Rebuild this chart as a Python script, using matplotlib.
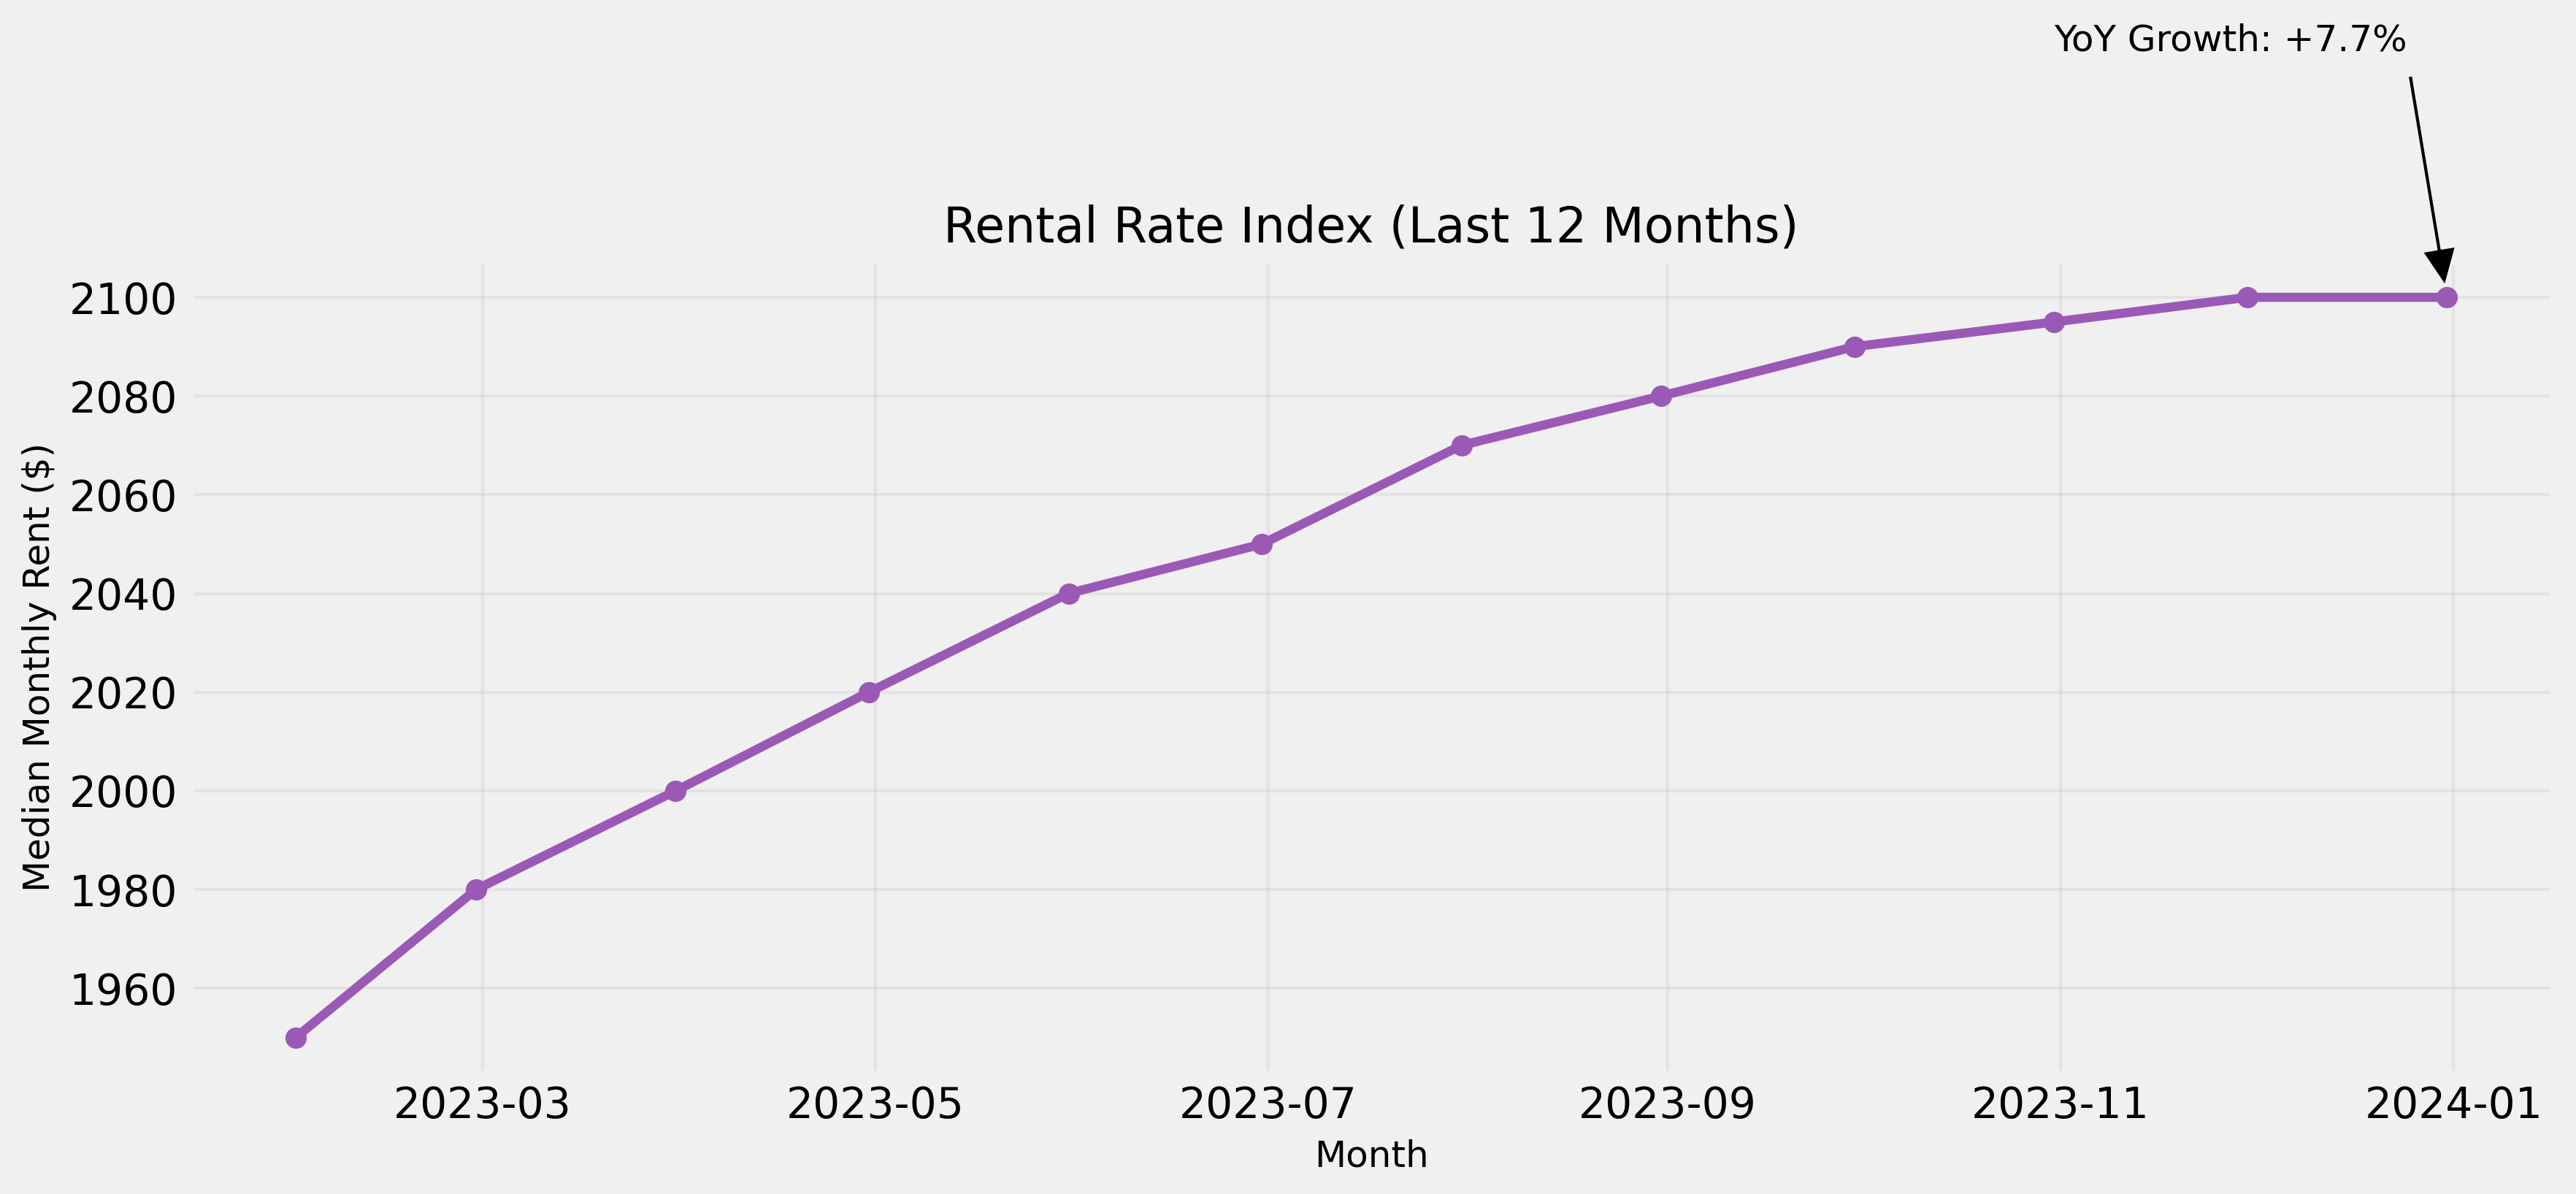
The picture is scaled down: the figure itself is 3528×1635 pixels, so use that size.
import matplotlib
matplotlib.use("Agg")
import matplotlib.pyplot as plt
import matplotlib.dates as mdates
import pandas as pd

# monthly median rent, month-end dates
months = pd.date_range("2023-01-31", periods=12, freq="ME")
rent = [1950, 1980, 2000, 2020, 2040, 2050, 2070, 2080, 2090, 2095, 2100, 2100]
growth_label = "YoY Growth: +7.7%"

plt.style.use("fivethirtyeight")

fig, ax = plt.subplots(figsize=(11.76, 5.45), dpi=300)
fig.subplots_adjust(left=0.073, right=0.9917, top=0.782, bottom=0.100)

ax.plot(months, rent, marker="o", color="#9b59b6", linewidth=3, markersize=6)
ax.grid(True, color="#cbcbcb", alpha=0.35)

ax.set_title("Rental Rate Index (Last 12 Months)", fontsize=16)
ax.set_xlabel("Month", fontsize=12)
ax.set_ylabel("Median Monthly Rent ($)", fontsize=12)
ax.xaxis.set_major_formatter(mdates.DateFormatter("%Y-%m"))

ax.annotate(growth_label, xy=(months[-1], rent[-1]), xytext=(months[-3], 2150),
            fontsize=12,
            arrowprops=dict(facecolor="black", shrink=0.05, width=1.5,
                            headwidth=11, headlength=12))

fig.savefig("out.png", dpi=300)
